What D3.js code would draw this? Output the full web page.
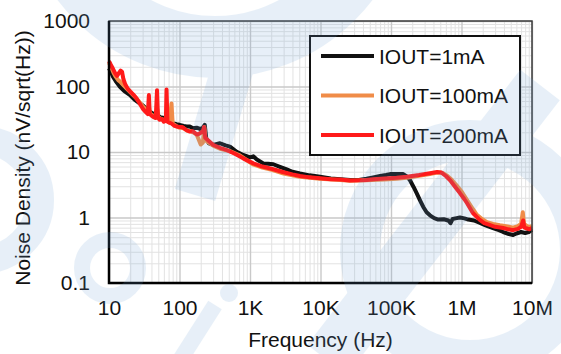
<!DOCTYPE html>
<html>
<head>
<meta charset="utf-8">
<script src="https://cdn.jsdelivr.net/npm/d3@7"></script>
<style>
  body { margin: 0; background: #fff; }
  svg { display: block; font-family: "Liberation Sans", Arial, sans-serif; }
</style>
</head>
<body>
<svg id="chart" width="561" height="354"></svg>
<script>
const seriesNames = ['IOUT=1mA', 'IOUT=100mA', 'IOUT=200mA'];
const seriesColors = ['#111111', '#f08c48', '#ff1a1a'];
const xTickValues = [10, 100, 1e3, 1e4, 1e5, 1e6, 1e7];
const xTickLabels = ['10', '100', '1K', '10K', '100K', '1M', '10M'];
const yTickValues = [0.1, 1, 10, 100, 1000];
const yTickLabels = ['0.1', '1', '10', '100', '1000'];

// [frequency Hz, noise nV/sqrt(Hz)]
const iout1mA = [
  [10, 190], [10.7, 165], [11.4, 141], [12.5, 120], [14.3, 99], [16.5, 85], [19.9, 74], [23, 63],
  [27.5, 55], [31, 50], [36, 43], [40, 40], [45, 37], [50, 36], [53, 34], [60, 33], [66, 31],
  [73, 29], [77, 27.5], [85, 27], [91, 26.5], [100, 26], [115, 25], [126, 24.5], [140, 24.5],
  [155, 23], [175, 23.5], [195, 22.5], [211, 23], [228, 26], [240, 16], [262, 13.5], [300, 12.8],
  [375, 13.6], [450, 12.6], [520, 12.1], [647, 10.1], [800, 9], [1000, 8.3], [1114, 8.6], [1250, 7.7],
  [1545, 6.7], [1800, 6.6], [2143, 6.5], [2600, 6.0], [3319, 5.45], [4000, 5.0], [5117, 4.7],
  [7000, 4.4], [9840, 4.2], [14000, 3.95], [19000, 3.85], [26200, 3.74], [35000, 3.75], [45000, 3.9],
  [56000, 4.1], [70000, 4.3], [85000, 4.45], [97000, 4.6], [120000, 4.62], [149000, 4.6],
  [170000, 4.2], [186000, 3.7], [210000, 2.9], [232000, 2.34], [260000, 1.8], [287000, 1.45],
  [320000, 1.2], [357000, 1.08], [410000, 0.98], [468000, 0.93], [560000, 0.94], [650000, 0.9],
  [700000, 0.82], [750000, 0.95], [820000, 0.97], [950000, 1.0], [1100000, 0.97], [1250000, 0.93],
  [1500000, 0.9], [1830000, 0.83], [2200000, 0.76], [2800000, 0.69], [3400000, 0.64], [3900000, 0.6],
  [4700000, 0.56], [5400000, 0.54], [6000000, 0.57], [7000000, 0.6], [8000000, 0.58], [9000000, 0.6],
  [10000000, 0.65]
];

const iout100mA = [
  [10, 230], [10.7, 195], [11.5, 165], [12.5, 140], [13.5, 125], [14.5, 118], [16, 105], [18, 92],
  [20, 82], [22, 74], [24.5, 66], [27, 58], [30, 50], [33, 45], [36, 40], [37, 48], [38, 39],
  [42, 36], [46, 34], [48.5, 45], [50, 34], [55, 32], [60, 31], [64, 32], [66, 42], [68, 30],
  [72, 28], [77, 55], [80, 27], [90, 25], [100, 23.5], [115, 23], [130, 21], [150, 20.5], [175, 18.5],
  [200, 13], [215, 14], [225, 24], [235, 15], [256, 14], [300, 12.5], [375, 11.2], [520, 10.3],
  [700, 9], [1100, 6.5], [1500, 5.8], [2100, 5.3], [3000, 4.7], [5100, 4.2], [9800, 3.9],
  [19000, 3.75], [26000, 3.65], [45000, 3.7], [80000, 3.8], [120000, 3.9], [167000, 4.05],
  [250000, 4.35], [357000, 4.6], [450000, 4.85], [540000, 4.8], [620000, 4.4], [720000, 3.8],
  [850000, 3.1], [1000000, 2.5], [1200000, 1.85], [1450000, 1.35], [1650000, 1.1], [1900000, 0.97],
  [2300000, 0.85], [2800000, 0.8], [3500000, 0.76], [4500000, 0.73], [5400000, 0.7], [6300000, 0.74],
  [7000000, 0.8], [7400000, 1.2], [7700000, 0.8], [8500000, 0.74], [9300000, 0.72], [10000000, 0.74]
];

const iout200mA = [
  [10, 245], [10.6, 215], [11.3, 190], [12.2, 160], [13, 145], [13.8, 160], [14.6, 175], [15.3, 168],
  [16, 130], [17, 108], [18.5, 92], [20, 84], [22, 76], [24.5, 66], [27, 56], [30.5, 45], [33, 41],
  [35.5, 38], [36.8, 74], [37.8, 38], [40, 36], [43, 34], [46, 33], [48, 88], [49.5, 34], [52, 31],
  [56, 32], [60, 29], [64, 30], [65.5, 90], [67.5, 29], [72, 28], [78, 27], [85, 25], [91, 24.5],
  [100, 24], [110, 24], [126, 21.5], [140, 20.5], [155, 20.8], [176, 18.5], [190, 19], [205, 20],
  [215, 21], [223, 24], [232, 16.5], [256, 15], [302, 12.8], [375, 11.6], [470, 10.7], [600, 9.5],
  [800, 8], [1114, 6.7], [1500, 6], [2143, 5.45], [3000, 4.9], [4000, 4.55], [5117, 4.3], [7000, 4.1],
  [9840, 3.97], [14000, 3.85], [19000, 3.8], [26200, 3.68], [35000, 3.7], [45000, 3.75], [56000, 3.85],
  [80000, 3.95], [120000, 4.05], [167000, 4.2], [250000, 4.45], [357000, 4.75], [450000, 4.95],
  [520000, 4.85], [600000, 4.3], [690000, 3.7], [800000, 3.0], [955000, 2.34], [1100000, 1.9],
  [1200000, 1.65], [1450000, 1.17], [1800000, 0.93], [2100000, 0.82], [2500000, 0.77], [3000000, 0.72],
  [3900000, 0.69], [4600000, 0.66], [5400000, 0.64], [6300000, 0.67], [7000000, 0.72], [7500000, 0.9],
  [7800000, 0.7], [8500000, 0.68], [9200000, 0.66], [10000000, 0.69]
];

const seriesData = [iout1mA, iout100mA, iout200mA];

const svg = d3.select('#chart');
const plotLeft = 109, plotRight = 532, plotTop = 21, plotBottom = 283;

const x = d3.scaleLog().domain([10, 1e7]).range([plotLeft, plotRight]);
const y = d3.scaleLog().domain([0.1, 1000]).range([plotBottom, plotTop]);

// minor / major grid values
const xMinor = [], yMinor = [];
xTickValues.slice(0, -1).forEach(d => { for (let k = 2; k <= 9; k++) xMinor.push(d * k); });
yTickValues.slice(0, -1).forEach(d => { for (let k = 2; k <= 9; k++) yMinor.push(d * k); });

const grid = svg.append('g');
grid.append('g')
  .attr('transform', `translate(0,${plotBottom})`)
  .call(d3.axisBottom(x).tickValues(xMinor).tickSize(-(plotBottom - plotTop)).tickFormat(''))
  .call(g => g.select('.domain').remove())
  .call(g => g.selectAll('line').attr('stroke', '#e2e2e2').attr('stroke-width', 1));
grid.append('g')
  .attr('transform', `translate(${plotLeft},0)`)
  .call(d3.axisLeft(y).tickValues(yMinor).tickSize(-(plotRight - plotLeft)).tickFormat(''))
  .call(g => g.select('.domain').remove())
  .call(g => g.selectAll('line').attr('stroke', '#e2e2e2').attr('stroke-width', 1));
grid.append('g')
  .attr('transform', `translate(0,${plotBottom})`)
  .call(d3.axisBottom(x).tickValues(xTickValues).tickSize(-(plotBottom - plotTop)).tickFormat(''))
  .call(g => g.select('.domain').remove())
  .call(g => g.selectAll('line').attr('stroke', '#c9c9c9').attr('stroke-width', 1.4));
grid.append('g')
  .attr('transform', `translate(${plotLeft},0)`)
  .call(d3.axisLeft(y).tickValues(yTickValues).tickSize(-(plotRight - plotLeft)).tickFormat(''))
  .call(g => g.select('.domain').remove())
  .call(g => g.selectAll('line').attr('stroke', '#c9c9c9').attr('stroke-width', 1.4));

// curves
const line = d3.line().x(d => x(d[0])).y(d => y(d[1]));
svg.append('g')
  .selectAll('path')
  .data(seriesData)
  .join('path')
  .attr('d', line)
  .attr('fill', 'none')
  .attr('stroke', (d, i) => seriesColors[i])
  .attr('stroke-width', 4)
  .attr('stroke-linejoin', 'round');

// frame
svg.append('rect')
  .attr('x', plotLeft).attr('y', plotTop)
  .attr('width', plotRight - plotLeft).attr('height', plotBottom - plotTop)
  .attr('fill', 'none').attr('stroke', '#3a3a3a').attr('stroke-width', 1.5);
svg.append('path')
  .attr('d', `M${plotLeft},${plotTop}V${plotBottom}H${plotRight}`)
  .attr('fill', 'none').attr('stroke', '#000').attr('stroke-width', 2.5);

// tick labels
svg.append('g')
  .attr('transform', `translate(0,${plotBottom})`)
  .call(d3.axisBottom(x).tickValues(xTickValues).tickSize(0).tickPadding(17)
    .tickFormat((d, i) => xTickLabels[i]))
  .call(g => g.select('.domain').remove())
  .call(g => g.selectAll('text').attr('font-size', 21).attr('font-family', null).attr('fill', '#111'));
svg.append('g')
  .attr('transform', `translate(${plotLeft},0)`)
  .call(d3.axisLeft(y).tickValues(yTickValues).tickSize(0).tickPadding(19)
    .tickFormat((d, i) => yTickLabels[i]))
  .call(g => g.select('.domain').remove())
  .call(g => g.selectAll('text').attr('font-size', 21).attr('font-family', null).attr('fill', '#111'));

// axis titles
svg.append('text')
  .attr('x', (plotLeft + plotRight) / 2).attr('y', 347)
  .attr('text-anchor', 'middle').attr('font-size', 21).attr('fill', '#111')
  .text('Frequency (Hz)');
svg.append('text')
  .attr('transform', 'translate(30,158) rotate(-90)')
  .attr('text-anchor', 'middle').attr('font-size', 21).attr('fill', '#111')
  .text('Noise Density (nV/sqrt(Hz))');

// legend
const legend = svg.append('g');
legend.append('rect')
  .attr('x', 310).attr('y', 36).attr('width', 210).attr('height', 119)
  .attr('fill', '#fff').attr('stroke', '#111').attr('stroke-width', 2);
seriesNames.forEach((name, i) => {
  const yy = 56 + i * 39.5;
  legend.append('line')
    .attr('x1', 321).attr('x2', 374).attr('y1', yy).attr('y2', yy)
    .attr('stroke', seriesColors[i]).attr('stroke-width', 4);
  legend.append('text')
    .attr('x', 379).attr('y', yy + 7.5)
    .attr('font-size', 21).attr('fill', '#111')
    .text(name);
});

// faint watermark shapes over the picture
const wm = svg.append('g').attr('fill', 'none').attr('stroke', '#6fa3d6')
  .attr('opacity', 0.16).style('pointer-events', 'none');
wm.append('circle').attr('cx', 215).attr('cy', -120).attr('r', 167).attr('stroke-width', 62);
wm.append('circle').attr('cx', 470).attr('cy', 250).attr('r', 110).attr('stroke-width', 40);
wm.append('circle').attr('cx', -20).attr('cy', 200).attr('r', 60).attr('stroke-width', 28);
wm.append('circle').attr('cx', 110).attr('cy', 268).attr('r', 28).attr('stroke-width', 16);
wm.append('line').attr('x1', 327).attr('y1', 360).attr('x2', 540).attr('y2', 85).attr('stroke-width', 50);
wm.append('line').attr('x1', 195).attr('y1', 195).attr('x2', 235).attr('y2', 60).attr('stroke-width', 42);
wm.append('line').attr('x1', 180).attr('y1', 360).attr('x2', 215).attr('y2', 305).attr('stroke-width', 16);
wm.append('circle').attr('cx', 229).attr('cy', 293).attr('r', 9).attr('fill', '#6fa3d6').attr('stroke', 'none');
</script>
</body>
</html>
